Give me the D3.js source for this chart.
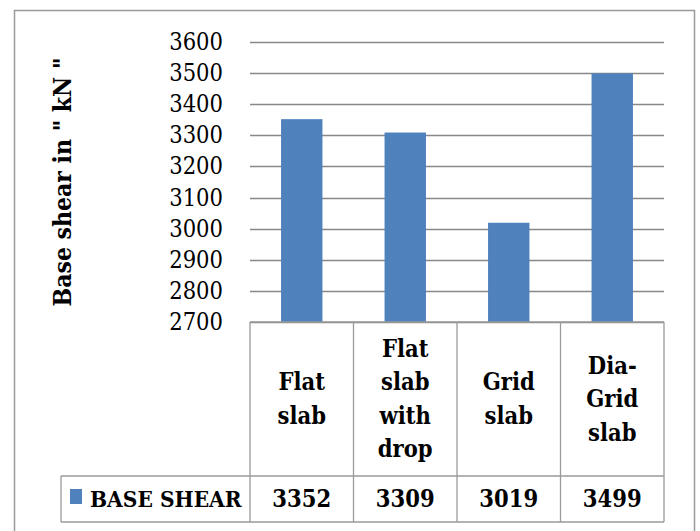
<!DOCTYPE html>
<html>
<head>
<meta charset="utf-8">
<script src="https://cdn.jsdelivr.net/npm/d3@7"></script>
<style>
  body { margin: 0; background: #fff; }
  text { font-family: "DejaVu Serif", "Liberation Serif", serif; font-stretch: condensed; fill: #000; }
</style>
</head>
<body>
<svg width="700" height="531"></svg>
<script>
// chart data
var categories = [["Flat", "slab"], ["Flat", "slab", "with", "drop"], ["Grid", "slab"], ["Dia-", "Grid", "slab"]];
var baseShear = [3352, 3309, 3019, 3499];
var yTicks = [2700, 2800, 2900, 3000, 3100, 3200, 3300, 3400, 3500, 3600];
var seriesName = "BASE SHEAR";
var yTitle = "Base shear in \" kN \"";

var svg = d3.select("svg");
var plotLeft = 250, plotRight = 664, plotTop = 42, plotBottom = 322, rowLine = 476, tableBottom = 522;
var ids = d3.range(categories.length);

var y = d3.scaleLinear().domain([2700, 3600]).range([plotBottom, plotTop]);
var x = d3.scaleBand().domain(ids).range([plotLeft, plotRight]).paddingInner(0.6).paddingOuter(0.3);
var cell = d3.scaleBand().domain(ids).range([plotLeft, plotRight]);

// outer chart border
svg.append("rect")
    .attr("x", 14.5).attr("y", 10.5)
    .attr("width", 680).attr("height", 540)
    .attr("fill", "none").attr("stroke", "#9a9a9a").attr("stroke-width", 1.5);

// gridlines
svg.append("g").selectAll("line")
    .data(yTicks)
    .enter().append("line")
    .attr("x1", plotLeft).attr("x2", plotRight)
    .attr("y1", function(d) { return Math.round(y(d)) + 0.5; })
    .attr("y2", function(d) { return Math.round(y(d)) + 0.5; })
    .attr("stroke", "#888").attr("stroke-width", 1.3);

// y axis
var yAxis = svg.append("g")
    .attr("transform", "translate(" + (plotLeft - 27) + ",0)")
    .call(d3.axisLeft(y).tickValues(yTicks).tickSize(0).tickPadding(0).tickFormat(d3.format("d")));
yAxis.select(".domain").remove();
yAxis.selectAll("text")
    .attr("fill", "#000")
    .style("font-family", "\"DejaVu Serif\", serif")
    .style("font-stretch", "condensed")
    .style("font-size", "23.5px");

svg.append("text")
    .attr("transform", "translate(71," + ((plotTop + plotBottom) / 2) + ") rotate(-90)")
    .attr("text-anchor", "middle")
    .style("font-weight", "bold")
    .style("font-size", "24.5px")
    .text(yTitle);

// bars
svg.append("g").selectAll("rect")
    .data(baseShear)
    .enter().append("rect")
    .attr("x", function(d, i) { return x(i); })
    .attr("width", x.bandwidth())
    .attr("y", function(d) { return y(d); })
    .attr("height", function(d) { return plotBottom - y(d); })
    .attr("fill", "#4f81bd");

// data table lines
var tbl = svg.append("g").attr("stroke", "#9a9a9a").attr("stroke-width", 1.3);
tbl.append("line").attr("x1", plotLeft).attr("x2", plotRight).attr("y1", plotBottom).attr("y2", plotBottom);
tbl.append("line").attr("x1", 61).attr("x2", plotRight).attr("y1", rowLine).attr("y2", rowLine);
tbl.append("line").attr("x1", 61).attr("x2", plotRight).attr("y1", tableBottom).attr("y2", tableBottom);
tbl.append("line").attr("x1", 61).attr("x2", 61).attr("y1", rowLine).attr("y2", tableBottom);
tbl.selectAll(".v")
    .data(ids.concat([categories.length]))
    .enter().append("line")
    .attr("x1", function(i) { return i < categories.length ? cell(i) : plotRight; })
    .attr("x2", function(i) { return i < categories.length ? cell(i) : plotRight; })
    .attr("y1", plotBottom).attr("y2", tableBottom);

// category labels
var lineH = 33.5;
svg.append("g").selectAll("text")
    .data(categories)
    .enter().append("text")
    .attr("text-anchor", "middle")
    .style("font-weight", "bold")
    .style("font-size", "23.5px")
    .each(function(lines, i) {
        var t = d3.select(this);
        var y0 = (plotBottom + rowLine) / 2 - (lines.length - 1) * lineH / 2;
        lines.forEach(function(s, k) {
            t.append("tspan")
                .attr("x", cell(i) + cell.bandwidth() / 2)
                .attr("y", y0 + k * lineH)
                .attr("dy", "0.35em")
                .text(s);
        });
    });

// value row
svg.append("g").selectAll("text")
    .data(baseShear)
    .enter().append("text")
    .attr("x", function(d, i) { return cell(i) + cell.bandwidth() / 2; })
    .attr("y", (rowLine + tableBottom) / 2)
    .attr("dy", "0.35em")
    .attr("text-anchor", "middle")
    .style("font-weight", "bold")
    .style("font-size", "23.5px")
    .text(function(d) { return d; });

// legend key
svg.append("rect")
    .attr("x", 70).attr("y", 489).attr("width", 12).attr("height", 15)
    .attr("fill", "#4f81bd");
svg.append("text")
    .attr("x", 90).attr("y", (rowLine + tableBottom) / 2)
    .attr("dy", "0.35em")
    .style("font-weight", "bold")
    .style("font-size", "22.5px")
    .text(seriesName);
</script>
</body>
</html>
